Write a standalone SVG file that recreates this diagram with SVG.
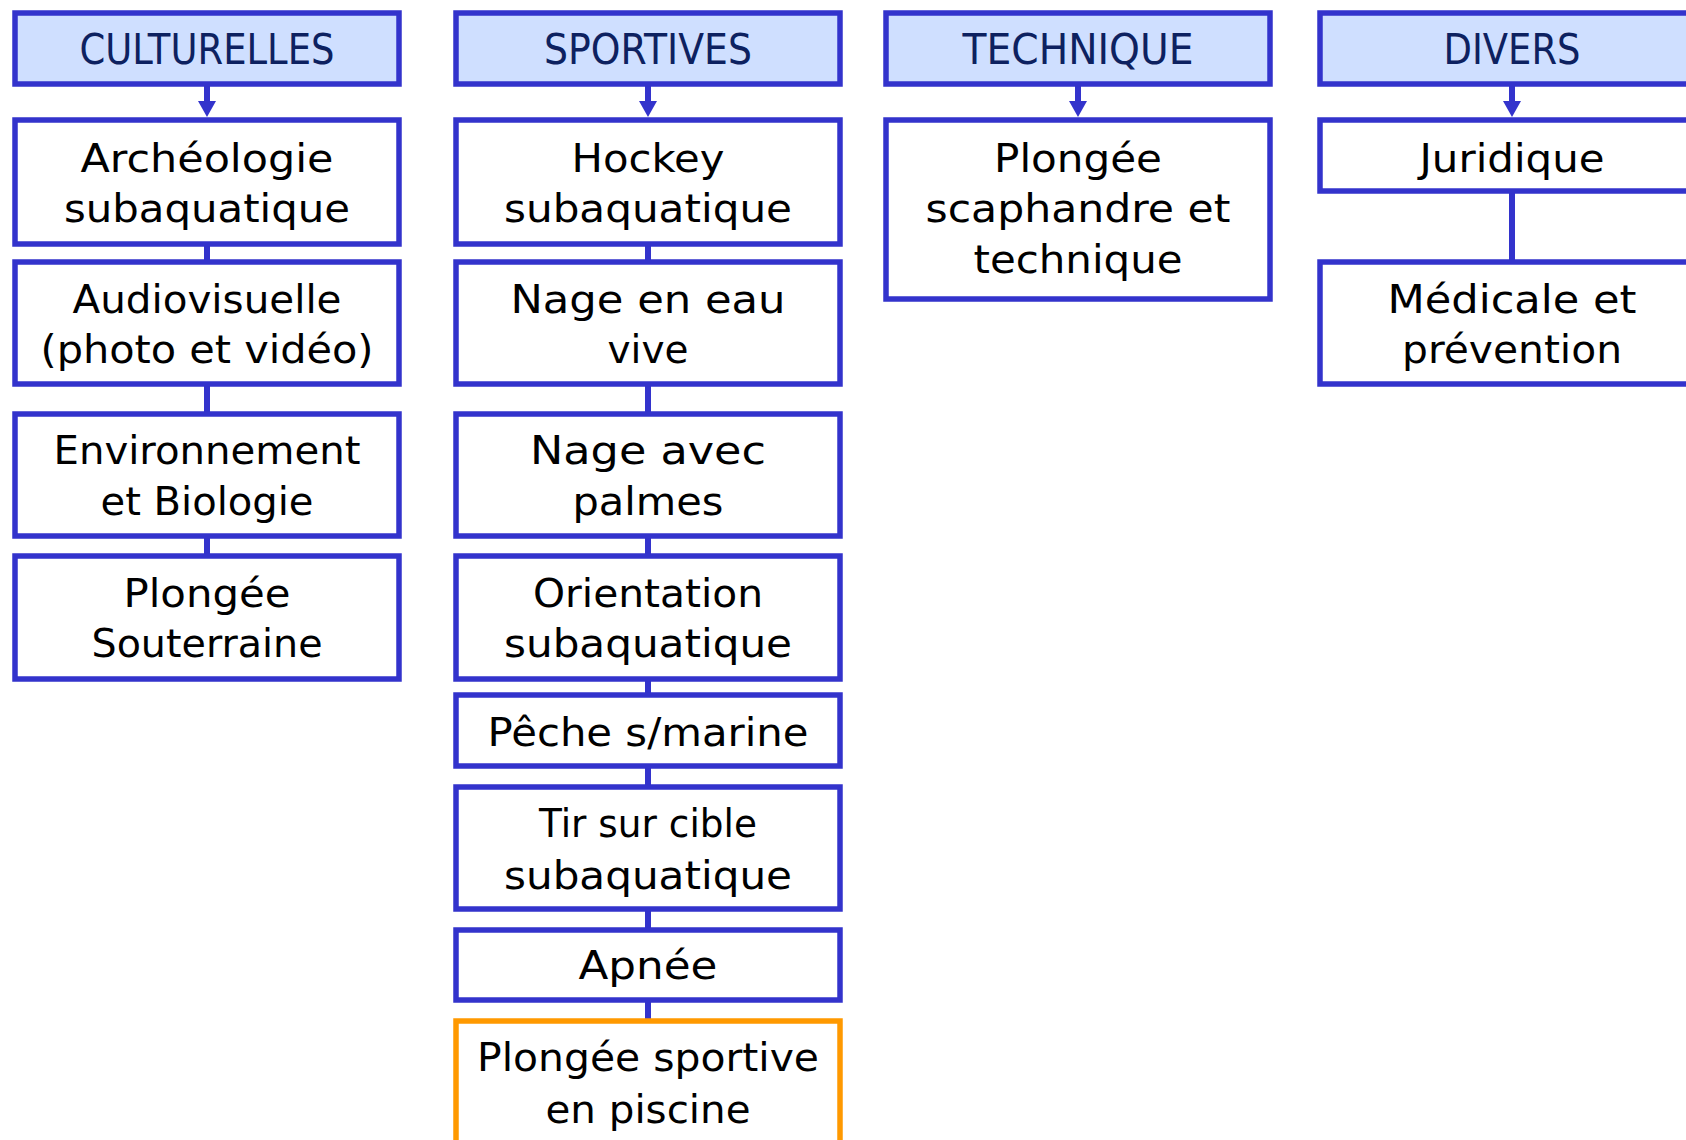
<svg xmlns="http://www.w3.org/2000/svg" width="1686" height="1140" viewBox="0 0 1686 1140">
<defs>
<style>
.hd{fill:#cfdfff;stroke:#3333cc;stroke-width:5.5}
.bx{fill:#ffffff;stroke:#3333cc;stroke-width:5.5}
.bo{fill:#ffffff;stroke:#ff9900;stroke-width:5.5}
.ht{font-family:"DejaVu Sans",sans-serif;font-size:42px;fill:#0d2160;text-anchor:middle}
.t{font-family:"DejaVu Sans",sans-serif;font-size:39px;fill:#000000;text-anchor:middle}
.c{stroke:#3333cc;stroke-width:6;fill:none}
</style>
<marker id="ah" viewBox="0 0 18 16" refX="9" refY="16" markerWidth="18" markerHeight="16" markerUnits="userSpaceOnUse" orient="auto-start-reverse">
<path d="M0,0 L18,0 L9,16 Z" fill="#3333cc"/>
</marker>
</defs>
<rect width="1686" height="1140" fill="#ffffff"/>
<g id="connectors">
<line class="c" x1="207" y1="86" x2="207" y2="102"/>
<path d="M198,101 L216,101 L207,117 Z" fill="#3333cc"/>
<line class="c" x1="648" y1="86" x2="648" y2="102"/>
<path d="M639,101 L657,101 L648,117 Z" fill="#3333cc"/>
<line class="c" x1="1078" y1="86" x2="1078" y2="102"/>
<path d="M1069,101 L1087,101 L1078,117 Z" fill="#3333cc"/>
<line class="c" x1="1512" y1="86" x2="1512" y2="102"/>
<path d="M1503,101 L1521,101 L1512,117 Z" fill="#3333cc"/>
<line class="c" x1="207" y1="246" x2="207" y2="260"/>
<line class="c" x1="207" y1="386" x2="207" y2="412"/>
<line class="c" x1="207" y1="538" x2="207" y2="554"/>
<line class="c" x1="648" y1="246" x2="648" y2="260"/>
<line class="c" x1="648" y1="386" x2="648" y2="412"/>
<line class="c" x1="648" y1="538" x2="648" y2="554"/>
<line class="c" x1="648" y1="681" x2="648" y2="693"/>
<line class="c" x1="648" y1="768" x2="648" y2="785"/>
<line class="c" x1="648" y1="911" x2="648" y2="928"/>
<line class="c" x1="648" y1="1002" x2="648" y2="1021"/>
<line class="c" x1="1512" y1="193" x2="1512" y2="260"/>
</g>
<g id="h-culturelles"><rect class="hd" x="15" y="13" width="384" height="71"/><text class="ht" x="207" y="64" textLength="255" lengthAdjust="spacingAndGlyphs">CULTURELLES</text></g>
<g id="h-sportives"><rect class="hd" x="456" y="13" width="384" height="71"/><text class="ht" x="648" y="64" textLength="208" lengthAdjust="spacingAndGlyphs">SPORTIVES</text></g>
<g id="h-technique"><rect class="hd" x="886" y="13" width="384" height="71"/><text class="ht" x="1078" y="64" textLength="231" lengthAdjust="spacingAndGlyphs">TECHNIQUE</text></g>
<g id="h-divers"><rect class="hd" x="1320" y="13" width="384" height="71"/><text class="ht" x="1512" y="64" textLength="137" lengthAdjust="spacingAndGlyphs">DIVERS</text></g>

<g id="n-archeologie"><rect class="bx" x="15" y="120" width="384" height="124"/><text class="t" x="207" y="172" textLength="253" lengthAdjust="spacingAndGlyphs">Archéologie</text><text class="t" x="207" y="222" textLength="286" lengthAdjust="spacingAndGlyphs">subaquatique</text></g>
<g id="n-audiovisuelle"><rect class="bx" x="15" y="262" width="384" height="122"/><text class="t" x="207" y="313" textLength="269" lengthAdjust="spacingAndGlyphs">Audiovisuelle</text><text class="t" x="207" y="363" textLength="333" lengthAdjust="spacingAndGlyphs">(photo et vidéo)</text></g>
<g id="n-environnement"><rect class="bx" x="15" y="414" width="384" height="122"/><text class="t" x="207" y="464" textLength="307" lengthAdjust="spacingAndGlyphs">Environnement</text><text class="t" x="207" y="515" textLength="213" lengthAdjust="spacingAndGlyphs">et Biologie</text></g>
<g id="n-souterraine"><rect class="bx" x="15" y="556" width="384" height="123"/><text class="t" x="207" y="607" textLength="167" lengthAdjust="spacingAndGlyphs">Plongée</text><text class="t" x="207" y="657" textLength="231" lengthAdjust="spacingAndGlyphs">Souterraine</text></g>

<g id="n-hockey"><rect class="bx" x="456" y="120" width="384" height="124"/><text class="t" x="648" y="172" textLength="153" lengthAdjust="spacingAndGlyphs">Hockey</text><text class="t" x="648" y="222" textLength="288" lengthAdjust="spacingAndGlyphs">subaquatique</text></g>
<g id="n-eauvive"><rect class="bx" x="456" y="262" width="384" height="122"/><text class="t" x="648" y="313" textLength="275" lengthAdjust="spacingAndGlyphs">Nage en eau</text><text class="t" x="648" y="363" textLength="81" lengthAdjust="spacingAndGlyphs">vive</text></g>
<g id="n-palmes"><rect class="bx" x="456" y="414" width="384" height="122"/><text class="t" x="648" y="464" textLength="236" lengthAdjust="spacingAndGlyphs">Nage avec</text><text class="t" x="648" y="515" textLength="151" lengthAdjust="spacingAndGlyphs">palmes</text></g>
<g id="n-orientation"><rect class="bx" x="456" y="556" width="384" height="123"/><text class="t" x="648" y="607" textLength="230" lengthAdjust="spacingAndGlyphs">Orientation</text><text class="t" x="648" y="657" textLength="288" lengthAdjust="spacingAndGlyphs">subaquatique</text></g>
<g id="n-peche"><rect class="bx" x="456" y="695" width="384" height="71"/><text class="t" x="648" y="746" textLength="321" lengthAdjust="spacingAndGlyphs">Pêche s/marine</text></g>
<g id="n-tir"><rect class="bx" x="456" y="787" width="384" height="122"/><text class="t" x="648" y="837" textLength="218" lengthAdjust="spacingAndGlyphs">Tir sur cible</text><text class="t" x="648" y="889" textLength="288" lengthAdjust="spacingAndGlyphs">subaquatique</text></g>
<g id="n-apnee"><rect class="bx" x="456" y="930" width="384" height="70"/><text class="t" x="648" y="979" textLength="139" lengthAdjust="spacingAndGlyphs">Apnée</text></g>
<g id="n-piscine"><rect class="bo" x="456" y="1021" width="384" height="200"/><text class="t" x="648" y="1071" textLength="342" lengthAdjust="spacingAndGlyphs">Plongée sportive</text><text class="t" x="648" y="1123" textLength="205" lengthAdjust="spacingAndGlyphs">en piscine</text></g>

<g id="n-scaphandre"><rect class="bx" x="886" y="120" width="384" height="179"/><text class="t" x="1078" y="172" textLength="168" lengthAdjust="spacingAndGlyphs">Plongée</text><text class="t" x="1078" y="222" textLength="305" lengthAdjust="spacingAndGlyphs">scaphandre et</text><text class="t" x="1078" y="273" textLength="209" lengthAdjust="spacingAndGlyphs">technique</text></g>

<g id="n-juridique"><rect class="bx" x="1320" y="120" width="384" height="71"/><text class="t" x="1512" y="172" textLength="185" lengthAdjust="spacingAndGlyphs">Juridique</text></g>
<g id="n-medicale"><rect class="bx" x="1320" y="262" width="384" height="122"/><text class="t" x="1512" y="313" textLength="249" lengthAdjust="spacingAndGlyphs">Médicale et</text><text class="t" x="1512" y="363" textLength="220" lengthAdjust="spacingAndGlyphs">prévention</text></g>
</svg>
